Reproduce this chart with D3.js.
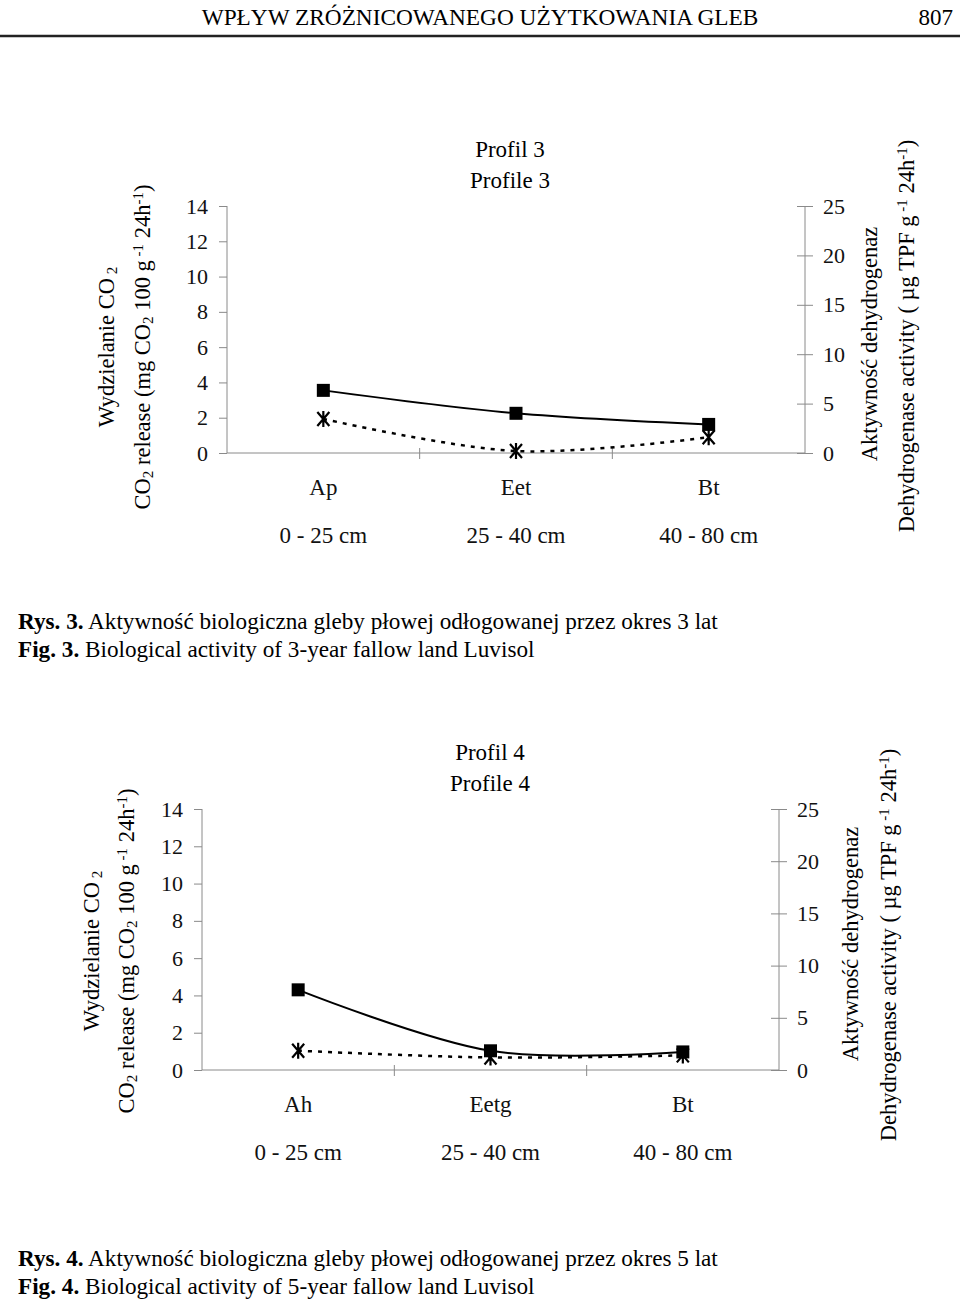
<!DOCTYPE html>
<html>
<head>
<meta charset="utf-8">
<script src="https://cdn.jsdelivr.net/npm/d3@7"></script>
<style>
  body { margin: 0; background: #fff; }
  svg { font-family: "Liberation Serif", "Times New Roman", serif; }
</style>
</head>
<body>
<svg width="960" height="1301"></svg>
<script>
// data
const horizons3 = ["Ap", "Eet", "Bt"];
const horizons4 = ["Ah", "Eetg", "Bt"];
const depths = ["0 - 25 cm", "25 - 40 cm", "40 - 80 cm"];
const co2Profile3 = [3.55, 2.25, 1.62];      // left axis
const dehydProfile3 = [3.45, 0.2, 1.6];      // right axis
const co2Profile4 = [4.3, 1.03, 0.97];
const dehydProfile4 = [1.85, 1.2, 1.4];
const leftTicks = [0, 2, 4, 6, 8, 10, 12, 14];
const rightTicks = [0, 5, 10, 15, 20, 25];

const svg = d3.select("svg");
const axisColor = "#8a8a8a";

// running header
svg.append("text")
  .attr("x", 480).attr("y", 25)
  .attr("text-anchor", "middle")
  .attr("font-size", 23.3)
  .text("WPŁYW ZRÓŻNICOWANEGO UŻYTKOWANIA GLEB");
svg.append("text")
  .attr("x", 953).attr("y", 25)
  .attr("text-anchor", "end")
  .attr("font-size", 23)
  .text("807");
svg.append("line")
  .attr("x1", 0).attr("x2", 960)
  .attr("y1", 36).attr("y2", 36)
  .attr("stroke", "#222").attr("stroke-width", 2.5);

// writes a rotated label made of [text, "sub"|"sup"|null] parts
function richLabel(g, x, y, parts) {
  const t = g.append("text")
    .attr("transform", `translate(${x},${y}) rotate(-90)`)
    .attr("text-anchor", "middle")
    .attr("font-size", 22.5);
  parts.forEach(([s, kind]) => {
    const sp = t.append("tspan").text(s);
    if (kind === "sub") sp.attr("font-size", 15).attr("baseline-shift", "-22%");
    if (kind === "sup") sp.attr("font-size", 15).attr("baseline-shift", "45%");
  });
}

function drawChart(o) {
  const g = svg.append("g");

  const x = d3.scaleBand().domain(o.cats).range([o.left, o.right]);
  const yL = d3.scaleLinear().domain([0, 14]).range([o.bottom, o.top]);
  const yR = d3.scaleLinear().domain([0, 25]).range([o.bottom, o.top]);

  // left axis
  const gl = g.append("g")
    .attr("transform", `translate(${o.left},0)`)
    .call(d3.axisLeft(yL).tickValues(leftTicks).tickSize(8).tickPadding(11));
  // right axis, ticks crossing the line
  const gr = g.append("g")
    .attr("transform", `translate(${o.right},0)`)
    .call(d3.axisRight(yR).tickValues(rightTicks).tickSize(8).tickPadding(10));
  gr.selectAll(".tick line").attr("x1", -8);

  [gl, gr].forEach(a => {
    a.selectAll("path, line").attr("stroke", axisColor);
    a.selectAll("text").attr("font-size", 22).attr("fill", "#111")
      .attr("font-family", "Liberation Serif");
    a.select(".domain").attr("d", `M0,${o.top}V${o.bottom}`);
  });

  // category axis
  g.append("line")
    .attr("x1", o.left).attr("x2", o.right)
    .attr("y1", o.bottom).attr("y2", o.bottom)
    .attr("stroke", axisColor);
  g.selectAll(".sep").data(o.cats.slice(1))
    .enter().append("line")
      .attr("x1", d => x(d)).attr("x2", d => x(d))
      .attr("y1", o.bottom - 5).attr("y2", o.bottom + 6)
      .attr("stroke", axisColor);

  const bottomRow = (fmt, pad) => {
    const a = g.append("g")
      .attr("transform", `translate(0,${o.bottom})`)
      .call(d3.axisBottom(x).tickSize(0).tickPadding(pad).tickFormat(fmt));
    a.select(".domain").remove();
    a.selectAll("text").attr("font-size", 23).attr("fill", "#111")
      .attr("font-family", "Liberation Serif");
  };
  bottomRow(d => d, 26);
  bottomRow((d, i) => depths[i], 74);

  // titles
  g.append("text").attr("x", o.titleX).attr("y", o.top - 49)
    .attr("text-anchor", "middle").attr("font-size", 23).text(o.title1);
  g.append("text").attr("x", o.titleX).attr("y", o.top - 18)
    .attr("text-anchor", "middle").attr("font-size", 23).text(o.title2);

  // axis titles
  richLabel(g, o.lx1, o.labelY, [["Wydzielanie CO", null], [" 2", "sub"]]);
  richLabel(g, o.lx2, o.labelY, [["CO", null], ["2", "sub"], [" release (mg CO", null],
    ["2", "sub"], [" 100 g", null], [" -1", "sup"], [" 24h", null], ["-1", "sup"], [")", null]]);
  richLabel(g, o.rx1, o.labelYR1, [["Aktywność dehydrogenaz", null]]);
  richLabel(g, o.rx2, o.labelYR2, [["Dehydrogenase activity ( µg TPF g", null], [" -1", "sup"],
    [" 24h", null], ["-1", "sup"], [")", null]]);

  const cx = d => x(d) + x.bandwidth() / 2;
  const curve = d3.curveCardinal.tension(0);

  // CO2 series: solid, squares
  const co2 = o.cats.map((c, i) => ({c, v: o.co2[i]}));
  g.append("path").datum(co2)
    .attr("fill", "none").attr("stroke", "#000").attr("stroke-width", 2)
    .attr("d", d3.line().x(d => cx(d.c)).y(d => yL(d.v)).curve(curve));
  g.selectAll(".sq").data(co2).enter().append("rect")
    .attr("x", d => cx(d.c) - 6.5).attr("y", d => yL(d.v) - 6.5)
    .attr("width", 13).attr("height", 13).attr("fill", "#000");

  // dehydrogenase series: dotted, asterisks
  const dh = o.cats.map((c, i) => ({c, v: o.dh[i]}));
  g.append("path").datum(dh)
    .attr("fill", "none").attr("stroke", "#000").attr("stroke-width", 2.5)
    .attr("stroke-dasharray", "4,6")
    .attr("d", d3.line().x(d => cx(d.c)).y(d => yR(d.v)).curve(curve));
  const star = g.selectAll(".st").data(dh).enter().append("g")
    .attr("transform", d => `translate(${cx(d.c)},${yR(d.v)})`);
  star.append("path")
    .attr("d", "M-6,-7L6,7M6,-7L-6,7M0,-8V8")
    .attr("stroke", "#000").attr("stroke-width", 2.2).attr("fill", "none");
}

drawChart({
  cats: horizons3, co2: co2Profile3, dh: dehydProfile3,
  left: 227, right: 805, top: 206, bottom: 453,
  title1: "Profil 3", title2: "Profile 3", titleX: 510,
  lx1: 114, lx2: 150, labelY: 347,
  rx1: 877, rx2: 914, labelYR1: 344, labelYR2: 336
});

drawChart({
  cats: horizons4, co2: co2Profile4, dh: dehydProfile4,
  left: 202, right: 779, top: 809, bottom: 1070,
  title1: "Profil 4", title2: "Profile 4", titleX: 490,
  lx1: 99, lx2: 134, labelY: 951,
  rx1: 858, rx2: 896, labelYR1: 944, labelYR2: 945
});

// captions
const captions = [
  {y: 629, b: "Rys. 3.", t: " Aktywność biologiczna gleby płowej odłogowanej przez okres 3 lat"},
  {y: 657, b: "Fig. 3.", t: " Biological activity of 3-year fallow land Luvisol"},
  {y: 1266, b: "Rys. 4.", t: " Aktywność biologiczna gleby płowej odłogowanej przez okres 5 lat"},
  {y: 1294, b: "Fig. 4.", t: " Biological activity of 5-year fallow land Luvisol"}
];
captions.forEach(c => {
  const t = svg.append("text").attr("x", 18).attr("y", c.y).attr("font-size", 23.2);
  t.append("tspan").attr("font-weight", "bold").text(c.b);
  t.append("tspan").text(c.t);
});
</script>
</body>
</html>
